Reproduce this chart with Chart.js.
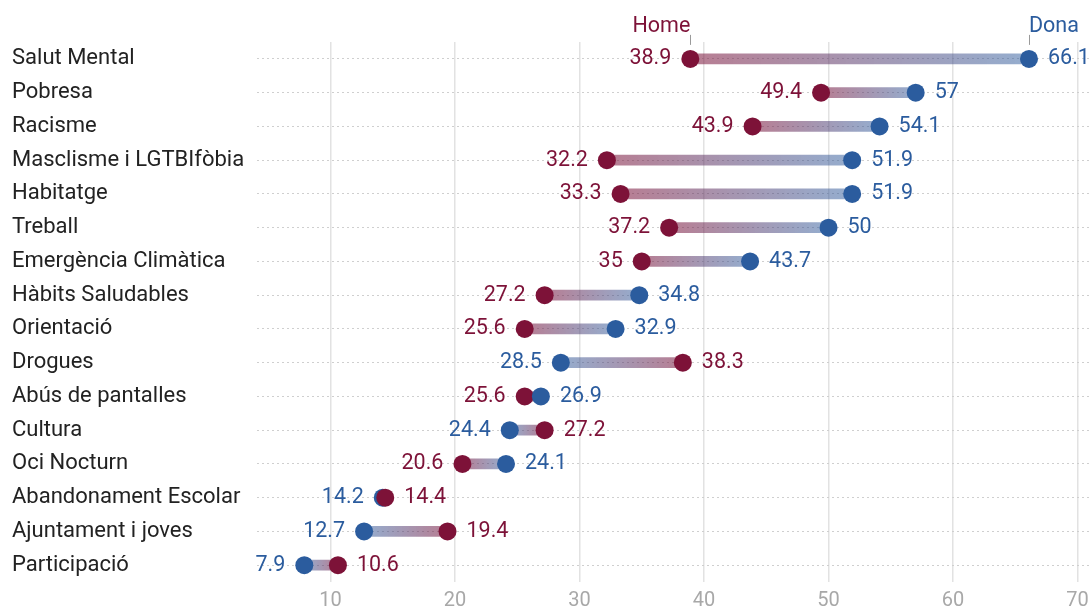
<!DOCTYPE html>
<html>
<head>
<meta charset="utf-8">
<script src="https://cdn.jsdelivr.net/npm/chart.js@4"></script>
<style>
  html, body { margin: 0; padding: 0; background: #fff; }
  #wrap { width: 1090px; height: 612px; position: relative; }
</style>
</head>
<body>
<div id="wrap"><canvas id="c"></canvas></div>
<script>
const categories = [
  "Salut Mental", "Pobresa", "Racisme", "Masclisme i LGTBIfòbia", "Habitatge",
  "Treball", "Emergència Climàtica", "Hàbits Saludables", "Orientació", "Drogues",
  "Abús de pantalles", "Cultura", "Oci Nocturn", "Abandonament Escolar",
  "Ajuntament i joves", "Participació"
];
const home = [38.9, 49.4, 43.9, 32.2, 33.3, 37.2, 35, 27.2, 25.6, 38.3, 25.6, 27.2, 20.6, 14.4, 19.4, 10.6];
const dona = [66.1, 57, 54.1, 51.9, 51.9, 50, 43.7, 34.8, 32.9, 28.5, 26.9, 24.4, 24.1, 14.2, 12.7, 7.9];
const xTicks = [10, 20, 30, 40, 50, 60, 70];
const seriesNames = ["Home", "Dona"];

const RED = "#7d1238";
const BLUE = "#2b5c9e";
const FONT = "Roboto";

const leftVals = categories.map((c, i) => Math.min(home[i], dona[i]));
const rightVals = categories.map((c, i) => Math.max(home[i], dona[i]));
const leftColors = categories.map((c, i) => home[i] <= dona[i] ? RED : BLUE);
const rightColors = categories.map((c, i) => home[i] <= dona[i] ? BLUE : RED);

function fmt(v) { return String(v); }

const labelPlugin = {
  id: "valueLabels",
  afterDatasetsDraw(chart) {
    const c = chart.ctx;
    c.save();
    c.font = "21.5px " + FONT;
    c.textBaseline = "middle";
    const lm = chart.getDatasetMeta(1);
    const rm = chart.getDatasetMeta(2);
    categories.forEach((cat, i) => {
      const pl = lm.data[i], pr = rm.data[i];
      c.fillStyle = leftColors[i];
      c.textAlign = "right";
      c.fillText(fmt(leftVals[i]), pl.x - 19, pl.y);
      c.fillStyle = rightColors[i];
      c.textAlign = "left";
      c.fillText(fmt(rightVals[i]), pr.x + 19, pr.y);
    });
    // series name labels above first row
    const xs = chart.scales.x;
    const y0 = lm.data[0].y;
    const hx = xs.getPixelForValue(home[0]);
    const dx = xs.getPixelForValue(dona[0]);
    c.textBaseline = "alphabetic";
    c.strokeStyle = "#9a9a9a";
    c.lineWidth = 1;
    [[hx, RED, home[0] <= dona[0] ? "right" : "left", seriesNames[0]],
     [dx, BLUE, home[0] <= dona[0] ? "left" : "right", seriesNames[1]]].forEach(([x, col, al, txt]) => {
      c.fillStyle = col;
      c.textAlign = al;
      c.fillText(txt, x, y0 - 27);
      c.beginPath();
      c.moveTo(Math.round(x) + 0.5, y0 - 24);
      c.lineTo(Math.round(x) + 0.5, y0 - 14);
      c.stroke();
    });
    c.restore();
  }
};

new Chart(document.getElementById("c"), {
  type: "bar",
  data: {
    labels: categories,
    datasets: [
      {
        type: "bar",
        label: "range",
        data: categories.map((c, i) => [home[i], dona[i]]),
        barThickness: 10,
        borderWidth: 0,
        borderSkipped: false,
        order: 3,
        backgroundColor(ctx) {
          const chart = ctx.chart;
          if (!chart.chartArea) return "rgba(150,120,150,0.5)";
          const i = ctx.dataIndex;
          const xs = chart.scales.x;
          const xh = xs.getPixelForValue(home[i]);
          const xd = xs.getPixelForValue(dona[i]);
          if (Math.abs(xh - xd) < 0.5) return "rgba(150,120,150,0.5)";
          const g = chart.ctx.createLinearGradient(xh, 0, xd, 0);
          g.addColorStop(0, "rgba(125,18,56,0.55)");
          g.addColorStop(1, "rgba(43,92,158,0.5)");
          return g;
        }
      },
      {
        type: "line",
        label: "left",
        data: leftVals,
        showLine: false,
        pointRadius: 9,
        pointHoverRadius: 9,
        pointBorderWidth: 0,
        pointBackgroundColor: leftColors,
        order: 2
      },
      {
        type: "line",
        label: "right",
        data: rightVals,
        showLine: false,
        pointRadius: 9,
        pointHoverRadius: 9,
        pointBorderWidth: 0,
        pointBackgroundColor: rightColors,
        order: 1
      }
    ]
  },
  options: {
    indexAxis: "y",
    responsive: true,
    maintainAspectRatio: false,
    animation: false,
    layout: { autoPadding: false, padding: { left: 12, top: 42, right: 0, bottom: 0 } },
    plugins: {
      legend: { display: false },
      tooltip: { enabled: false }
    },
    scales: {
      x: {
        type: "linear",
        min: 4.1,
        max: 71,
        afterBuildTicks(scale) { scale.ticks = xTicks.map(v => ({ value: v })); },
        afterFit(scale) { scale.height = 30; scale.paddingLeft = 0; scale.paddingRight = 0; },
        grid: { color: "#e2e2e2", lineWidth: 1.5, drawTicks: true, tickLength: 7, tickColor: "rgba(0,0,0,0)" },
        border: { display: false },
        ticks: { color: "#a8a8a8", font: { family: FONT, size: 20 }, padding: 0 }
      },
      y: {
        type: "category",
        offset: true,
        grid: { offset: false, color: "#cfcfcf", lineWidth: 1, drawTicks: false },
        border: { display: false, dash: [2, 3] },
        ticks: { color: "#222", font: { family: FONT, size: 22 }, crossAlign: "far", padding: 0 },
        afterFit(scale) { scale.width = 245; scale.paddingTop = 0; scale.paddingBottom = 0; }
      }
    }
  },
  plugins: [labelPlugin]
});
</script>
</body>
</html>
